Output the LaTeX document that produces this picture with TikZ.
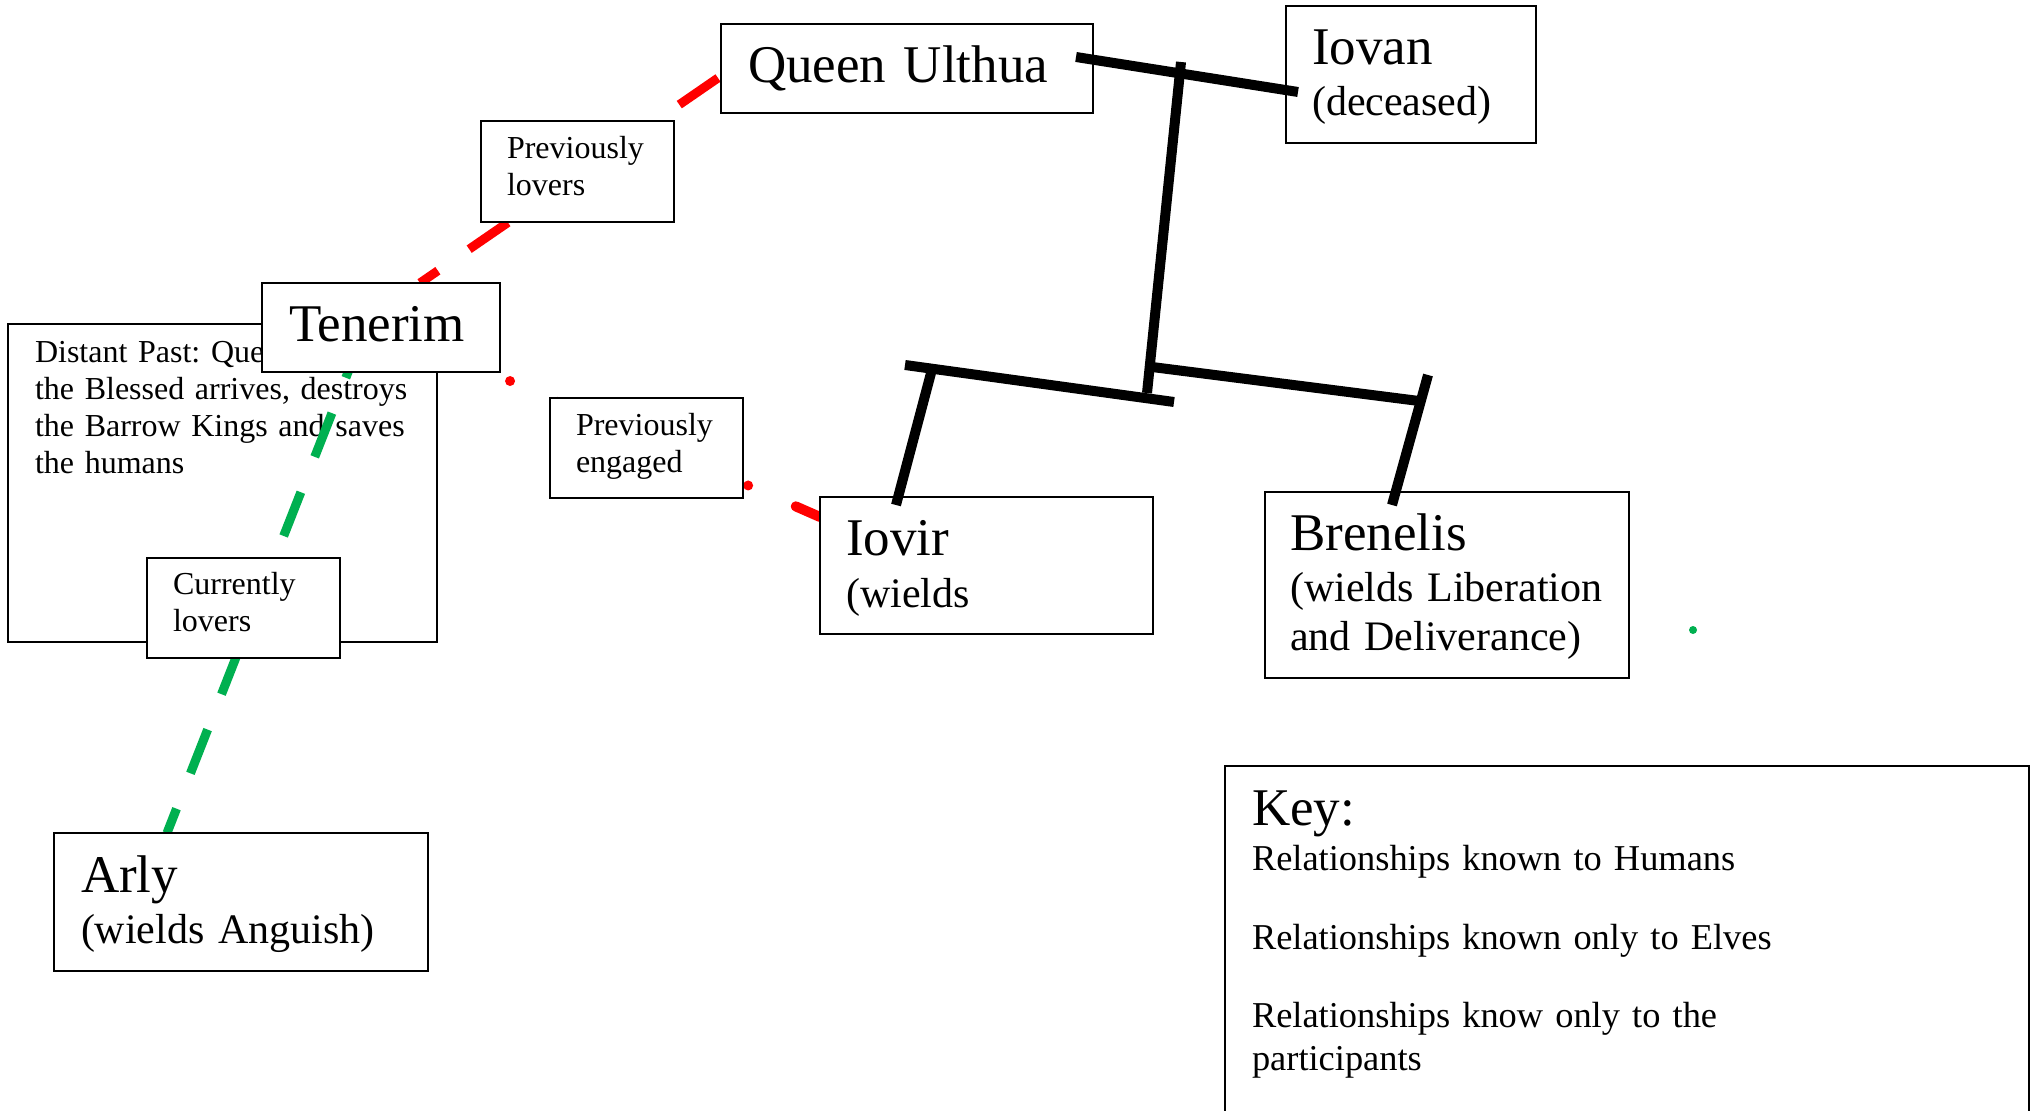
\documentclass[tikz,border=0pt]{standalone}
\usepackage{fontspec}
\setmainfont{Liberation Serif}
\frenchspacing
\usetikzlibrary{calc}
\pgfdeclarelayer{bg}
\pgfdeclarelayer{fg}
\pgfsetlayers{bg,main,fg}
\definecolor{kred}{HTML}{FF0000}
\definecolor{kgreen}{HTML}{00B050}
\begin{document}
\begin{tikzpicture}[x=0.5pt,y=-0.5pt,
  box/.style={draw=black,line width=1pt,fill=white,inner sep=0pt,outer sep=0pt,anchor=north west},
  txt/.style={anchor=base west,inner sep=0pt,outer sep=0pt,align=left,text width=420pt},
  big/.style={font=\fontsize{26.5}{30}\selectfont},
  sub/.style={font=\fontsize{21}{24.5}\selectfont},
  small/.style={font=\fontsize{16}{18.4}\selectfont},
  keyt/.style={font=\fontsize{18.2}{21.5}\selectfont},
  lovers/.style={draw=kred,line width=4.5pt,dash pattern=on 23.5pt off 19pt},
  current/.style={draw=kgreen,line width=4.5pt,dash pattern=on 23.5pt off 19pt},
  engaged/.style={draw=kred,line width=5pt,line cap=round,dash pattern=on 0pt off 26pt,dash phase=7pt},
  tail/.style={draw=kred,line width=5pt,line cap=round},
  family/.style={draw=black,line width=5pt}
]
\useasboundingbox (0,0) rectangle (2037,1111);
\clip (0,0) rectangle (2037,1111);

% connector end points
\coordinate (rq) at (718,78);
\coordinate (rt) at (420,283);
\coordinate (gt) at (363,334);
\coordinate (ga) at (167,833);
\coordinate (et) at (380,324);
\coordinate (ei) at (820,517);
\coordinate (m1) at (1076,57);
\coordinate (m2) at (1298,92);
\coordinate (v1) at (1181,62);
\coordinate (v2) at (1147,393);
\coordinate (l1) at (905,365);
\coordinate (l2) at (1174,402);
\coordinate (r1) at (1152,367);
\coordinate (r2) at (1419,401);
\coordinate (i1) at (931,373);
\coordinate (i2) at (896,505);
\coordinate (b1) at (1428,375);
\coordinate (b2) at (1392,505);

\begin{pgfonlayer}{bg}
  \fill[white] (0,0) rectangle (2037,1111);
  \node[box,minimum width=429*0.5pt,minimum height=318*0.5pt] (past) at (8,324) {};
  \node[txt,small,font=\fontsize{16}{18.35}\selectfont] (past-t) at (35,363)
    {Distant Past: Queen\\the Blessed arrives, destroys\\the Barrow Kings and saves\\the humans};
  \draw[current] (gt) -- (ga);
  \draw[lovers] (rq) -- (rt);
  \draw[engaged] (et) -- (ei);
  \draw[tail] ($(et)!0.946!(ei)$) -- (ei);
\end{pgfonlayer}

% label boxes
\node[box,minimum width=193*0.5pt,minimum height=101*0.5pt] (plovers) at (481,121) {};
\node[txt,small] (plovers-t) at (507,159) {Previously\\lovers};
\node[box,minimum width=193*0.5pt,minimum height=100*0.5pt] (pengaged) at (550,398) {};
\node[txt,small] (pengaged-t) at (576,436) {Previously\\engaged};
\node[box,minimum width=193*0.5pt,minimum height=100*0.5pt] (clovers) at (147,558) {};
\node[txt,small] (clovers-t) at (173,595) {Currently\\lovers};

% people
\node[box,minimum width=238*0.5pt,minimum height=89*0.5pt] (tenerim) at (262,283) {};
\node[txt,big] (tenerim-t) at (289,342) {Tenerim};
\node[box,minimum width=372*0.5pt,minimum height=89*0.5pt] (queen) at (721,24) {};
\node[txt,big] (queen-t) at (748,83) {Queen Ulthua};
\node[box,minimum width=250*0.5pt,minimum height=137*0.5pt] (iovan) at (1286,6) {};
\node[txt,big] (iovan-t) at (1312,65) {Iovan};
\node[txt,sub] (iovan-s) at (1312,116) {(deceased)};
\node[box,minimum width=333*0.5pt,minimum height=137*0.5pt] (iovir) at (820,497) {};
\node[txt,big] (iovir-t) at (846,556) {Iovir};
\node[txt,sub] (iovir-s) at (846,607) {(wields};
\node[box,minimum width=364*0.5pt,minimum height=186*0.5pt] (brenelis) at (1265,492) {};
\node[txt,big] (brenelis-t) at (1290,551) {Brenelis};
\node[txt,sub] (brenelis-s) at (1290,602) {(wields Liberation\\and Deliverance)};
\node[box,minimum width=374*0.5pt,minimum height=138*0.5pt] (arly) at (54,833) {};
\node[txt,big] (arly-t) at (81,892) {Arly};
\node[txt,sub] (arly-s) at (81,943) {(wields Anguish)};

% key
\node[box,minimum width=804*0.5pt,minimum height=380*0.5pt] (key) at (1225,766) {};
\node[txt,big] (key-t) at (1252,825) {Key:};
\node[txt,keyt] (key-a) at (1252,870) {Relationships known to Humans};
\node[txt,keyt] (key-b) at (1252,949) {Relationships known only to Elves};
\node[txt,keyt] (key-c) at (1252,1027) {Relationships know only to the\\participants};

\begin{pgfonlayer}{fg}
  \draw[family] (m1) -- (m2);
  \draw[family] (v1) -- (v2);
  \draw[family] (l1) -- (l2);
  \draw[family] (r1) -- (r2);
  \draw[family] (i1) -- (i2);
  \draw[family] (b1) -- (b2);
  \node[circle,fill=kgreen,inner sep=0pt,minimum size=4pt] (gdot) at (1693,630) {};
\end{pgfonlayer}
\end{tikzpicture}
\end{document}
